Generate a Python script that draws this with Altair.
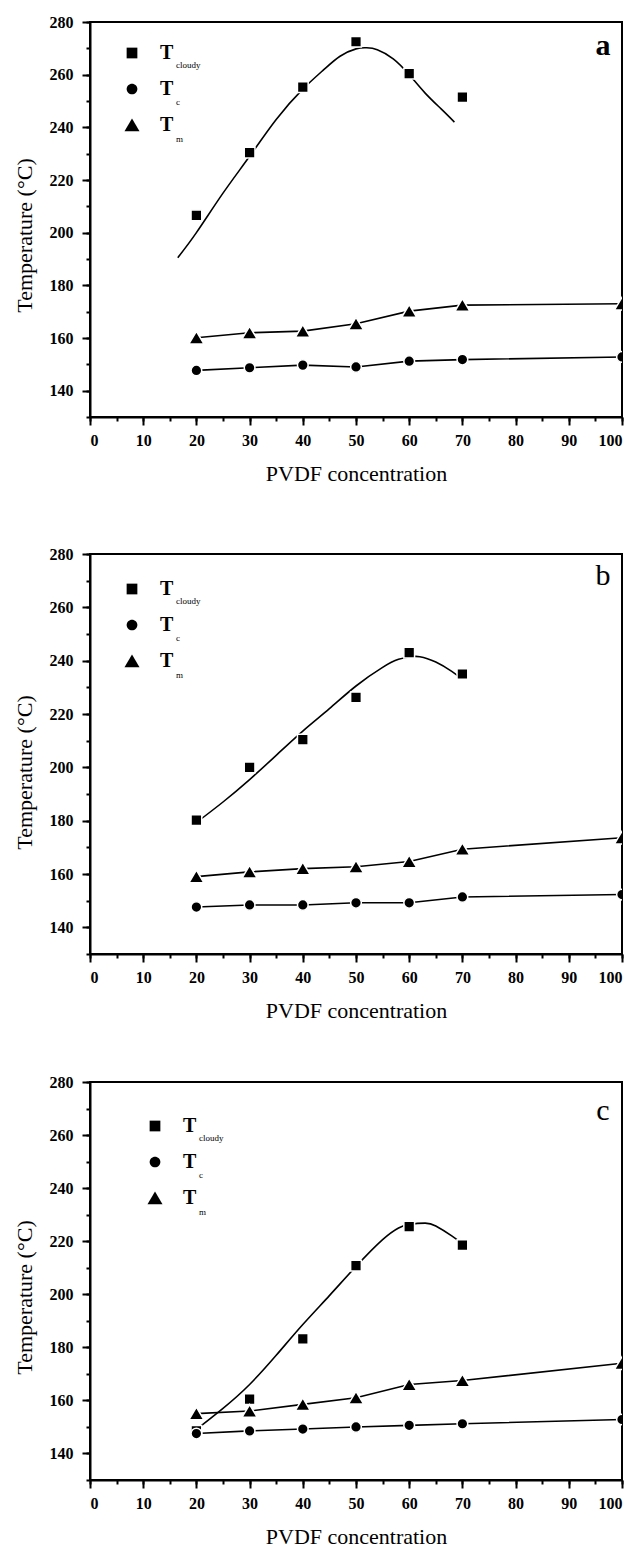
import altair as alt
import pandas as pd

SERIES = ["Tcloudy", "Tc", "Tm"]
SHAPES = ["square", "M0,-1A1,1 0 1,1 0,1A1,1 0 1,1 0,-1Z",
          "M0,-1.2L-1.4,1.15L1.4,1.15Z"]
CONC = [20, 30, 40, 50, 60, 70]
CONC_ALL = [20, 30, 40, 50, 60, 70, 100]
X_MAJOR = [0, 10, 20, 30, 40, 50, 60, 70, 80, 90, 100]
X_MINOR = [0, 5, 10, 15, 20, 25, 30, 35, 40, 45, 50, 55, 60, 65, 70, 75, 80, 85, 90, 95, 100]
Y_MAJOR = [140, 160, 180, 200, 220, 240, 260, 280]
Y_MINOR = [130, 140, 150, 160, 170, 180, 190, 200, 210, 220, 230, 240, 250, 260, 270, 280]

# panel a
a_cloudy = [206.6, 230.4, 255.3, 272.5, 260.4, 251.5]
a_tc = [147.7, 148.7, 149.7, 149.0, 151.2, 151.8, 152.8]
a_tm = [160.1, 162.0, 162.6, 165.4, 170.2, 172.5, 173.0]
a_fit_x = [16.5, 20, 25, 30, 35, 40, 44, 47, 50, 52, 54, 57, 60, 63, 66, 68.5]
a_fit_y = [190.5, 200, 215, 229, 243, 254.5, 262, 267, 269.8, 270.2, 269.5, 266, 260, 253, 247, 242]

# panel b
b_cloudy = [180.2, 200.0, 210.4, 226.2, 243.0, 235.0]
b_tc = [147.6, 148.4, 148.4, 149.2, 149.2, 151.4, 152.3]
b_tm = [159.0, 160.8, 162.0, 162.7, 164.7, 169.3, 173.6]
b_fit_x = [20, 25, 30, 35, 40, 45, 50, 55, 58, 60, 62, 65, 68, 70]
b_fit_y = [179.3, 187, 195.4, 204.5, 213.6, 222, 230.5, 237.5, 240.5, 241.4, 241.5, 239.5, 236, 233]

# panel c
c_cloudy = [148.5, 160.5, 183.2, 210.8, 225.5, 218.5]
c_tc = [147.5, 148.5, 149.2, 150.0, 150.6, 151.2, 152.8]
c_tm = [155.0, 156.0, 158.5, 161.0, 166.0, 167.5, 174.0]
c_fit_x = [19.2, 25, 30, 35, 40, 45, 50, 55, 58, 60, 63, 65, 68, 70]
c_fit_y = [147.8, 157, 166, 177, 188.6, 199.5, 210.5, 220.6, 225.0, 226.3, 226.8, 225.7, 222, 219]

SERIF = "Liberation Serif"


def panel(cloudy, tc, tm, fit_x, fit_y, letter, letter_weight, letter_pos,
          leg_pos, height, title_y):
    pts = pd.DataFrame({
        "conc": CONC + CONC_ALL + CONC_ALL,
        "temp": cloudy + tc + tm,
        "series": ["Tcloudy"] * len(CONC) + ["Tc"] * len(CONC_ALL) + ["Tm"] * len(CONC_ALL),
    })
    lines = pts[pts["series"] != "Tcloudy"]
    fit = pd.DataFrame({"conc": fit_x, "temp": fit_y})

    xs = alt.Scale(domain=[0, 100], nice=False, zero=False)
    ys = alt.Scale(domain=[130, 280], nice=False, zero=False)

    x_major = alt.Axis(values=X_MAJOR, orient="bottom", tickSize=8, labelPadding=7,
                       title="PVDF concentration", titlePadding=15, grid=False)
    y_major = alt.Axis(values=Y_MAJOR, orient="left", tickSize=8, labelPadding=9,
                       title="Temperature (°C)", titlePadding=13, grid=False,
                       titleY=title_y)
    x_minor = alt.Axis(values=X_MINOR, orient="bottom", tickSize=4, labels=False,
                       domain=False, title=None, grid=False)
    y_minor = alt.Axis(values=Y_MINOR, orient="left", tickSize=4, labels=False,
                       domain=False, title=None, grid=False)

    base_lines = alt.Chart(lines).mark_line(color="black", strokeWidth=1.6).encode(
        x=alt.X("conc:Q", scale=xs, axis=x_major),
        y=alt.Y("temp:Q", scale=ys, axis=y_major),
        detail="series:N",
    )
    fit_line = alt.Chart(fit).mark_line(color="black", strokeWidth=1.6,
                                        interpolate="natural").encode(
        x=alt.X("conc:Q", scale=xs, axis=None),
        y=alt.Y("temp:Q", scale=ys, axis=None),
    )
    legend = alt.Legend(orient="none", legendX=leg_pos[0], legendY=leg_pos[1], title=None,
                        labelExpr="'T'", symbolFillColor="black", symbolStrokeWidth=0,
                        symbolSize=115,
                        labelFont=SERIF, labelFontSize=20, labelFontWeight="bold",
                        labelColor="black", labelOffset=18, rowPadding=16)
    points = alt.Chart(pts).mark_point(filled=True, color="black", size=115,
                                       stroke="white", strokeWidth=1.5,
                                       opacity=1, clip=True).encode(
        x=alt.X("conc:Q", scale=xs, axis=None),
        y=alt.Y("temp:Q", scale=ys, axis=None),
        shape=alt.Shape("series:N", scale=alt.Scale(domain=SERIES, range=SHAPES),
                        legend=legend),
    )
    minor = alt.Chart(pts).mark_point(opacity=0).encode(
        x=alt.X("conc:Q", scale=xs, axis=x_minor),
        y=alt.Y("temp:Q", scale=ys, axis=y_minor),
    )
    sub_layers = []
    for i, s in enumerate(["cloudy", "c", "m"]):
        sub_layers.append(
            alt.Chart(pd.DataFrame({"sub": [s]})).mark_text(
                font=SERIF, fontSize=9, align="left", baseline="middle", color="black"
            ).encode(x=alt.value(leg_pos[0] + 54), y=alt.value(leg_pos[1] + 22 + 37 * i),
                     text="sub:N")
        )
    letter_mark = alt.Chart(pd.DataFrame({"label": [letter]})).mark_text(
        font=SERIF, fontSize=30, fontWeight=letter_weight, color="black",
        align="center", baseline="middle"
    ).encode(x=alt.value(letter_pos[0]), y=alt.value(letter_pos[1]), text="label:N")

    return alt.layer(base_lines, minor, fit_line, points, letter_mark, *sub_layers).resolve_axis(
        x="independent", y="independent"
    ).properties(width=532, height=height)


pa = panel(a_cloudy, a_tc, a_tm, a_fit_x, a_fit_y, "a", "bold", (513, 24), (32, 21), 395, 213)
pb = panel(b_cloudy, b_tc, b_tm, b_fit_x, b_fit_y, "b", "normal", (513, 22), (32, 25), 400, 218)
pc = panel(c_cloudy, c_tc, c_tm, c_fit_x, c_fit_y, "c", "normal", (513, 29), (55, 34), 398, 215)

inner = alt.vconcat(pb, pc, spacing=51).resolve_legend(shape="independent")
chart = alt.vconcat(pa, inner, spacing=60).resolve_legend(shape="independent").properties(
    padding={"left": 4, "top": 5, "right": 0, "bottom": 0}
).configure_view(stroke="black", strokeWidth=2).configure_axis(
    domainColor="black", domainWidth=2, tickColor="black", tickWidth=2,
    labelFont=SERIF, labelFontSize=16, labelFontWeight="bold", labelColor="black",
    titleFont=SERIF, titleFontSize=22, titleFontWeight="normal", titleColor="black",
)

chart.save("out.html", embed_options={"renderer": "svg", "actions": False})
